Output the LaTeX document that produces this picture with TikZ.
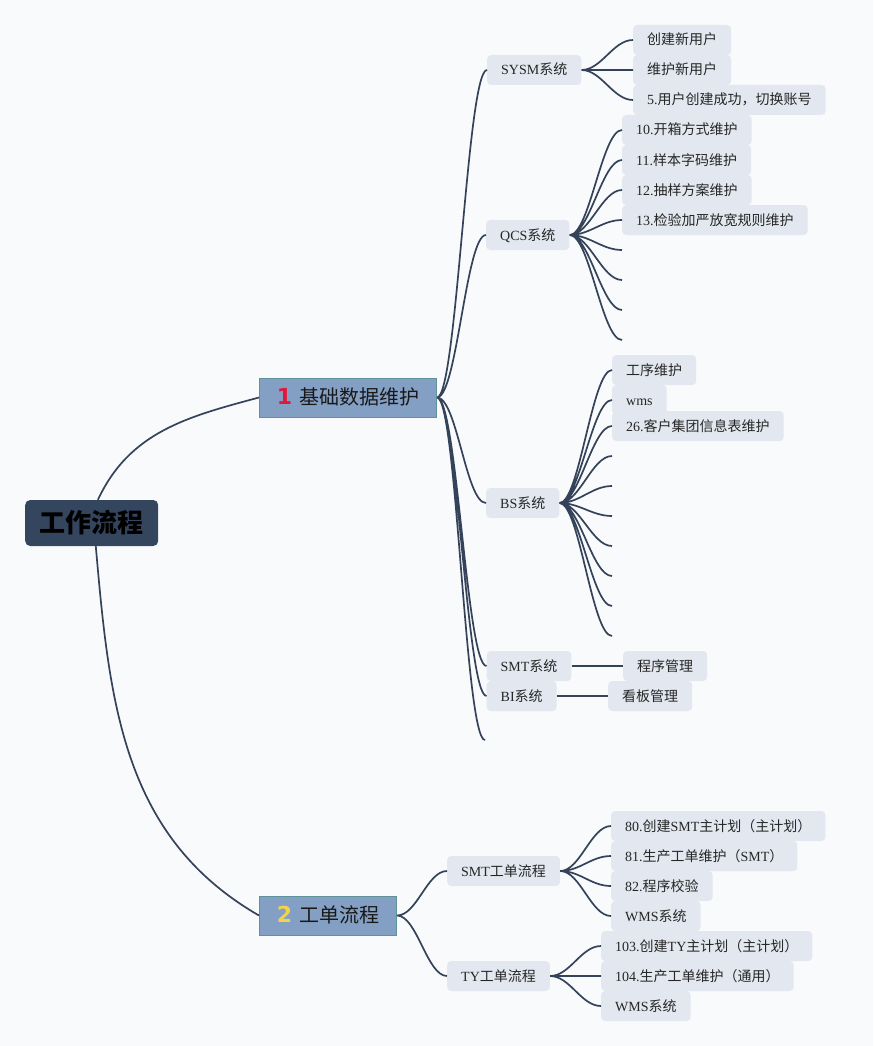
\documentclass[tikz,border=0pt]{standalone}
\usepackage{fontspec}
\setmainfont{Liberation Serif}
\newfontfamily\cjk{Noto Sans CJK SC}
\newfontfamily\numfont{DejaVu Sans}
\newcommand\zh[1]{{\cjk #1}}
\definecolor{bgpaper}{HTML}{F9FAFB}
\definecolor{linkline}{HTML}{34425A}
\definecolor{topicfill}{HTML}{E3E8F0}
\definecolor{mainfill}{HTML}{849FC4}
\definecolor{mainedge}{HTML}{5F9399}
\definecolor{rootfill}{HTML}{34455E}
\definecolor{numred}{HTML}{E0193A}
\definecolor{numyellow}{HTML}{F2D349}
\tikzset{
  topic/.style={anchor=west, fill=topicfill, rounded corners=4pt, minimum height=30pt,
    inner xsep=14pt, inner ysep=0pt, text height=12pt, text depth=2pt,
    font=\fontsize{14}{16}\selectfont, text=black!85},
  mainbox/.style={anchor=west, fill=mainfill, draw=mainedge, line width=1pt,
    minimum height=39pt, inner xsep=0pt, text height=16pt, text depth=3pt,
    font=\cjk\fontsize{20}{24}\selectfont, text=black!90},
  rootbox/.style={anchor=west, fill=rootfill, rounded corners=5pt, minimum width=133pt,
    minimum height=46pt, font=\cjk\bfseries\fontsize{26}{30}\selectfont, text=black},
  link/.style={draw=linkline, line width=1.7pt},
  fan/.style={out=0, in=180, distance=#1},
  fan/.default=20pt
}
\begin{document}
\begin{tikzpicture}[x=1pt,y=1pt]
\fill[bgpaper] (0,0) rectangle (873,-1046);
\useasboundingbox (0,0) rectangle (873,-1046);
\path
	(25,-523) node[rootbox] (root) {工作流程}
	(259,-397.5) node[mainbox, minimum width=177pt] (jichu) {{\numfont\bfseries\fontsize{22}{24}\selectfont\color{numred}1}\hspace{7pt}基础数据维护}
	(259,-915.5) node[mainbox, minimum width=137pt] (gongdan) {{\numfont\bfseries\fontsize{22}{24}\selectfont\color{numyellow}2}\hspace{7pt}工单流程};
\path
	(487,-70) node[topic] (sysm) {SYSM\zh{系统}}
	(486,-235) node[topic] (qcs) {QCS\zh{系统}}
	(486,-503) node[topic] (bs) {BS\zh{系统}}
	(486.5,-666) node[topic] (smt) {SMT\zh{系统}}
	(486.5,-696) node[topic] (bi) {BI\zh{系统}}
	(447,-871) node[topic] (sflow) {SMT\zh{工单流程}}
	(447,-976) node[topic] (tflow) {TY\zh{工单流程}};
\coordinate (blank) at (485,-740);
\path
	(633,-40) node[topic] (u1) {\zh{创建新用户}}
	(633,-70) node[topic] (u2) {\zh{维护新用户}}
	(633,-100) node[topic] (u3) {5.\zh{用户创建成功，切换账号}}
	(622,-130) node[topic] (q1) {10.\zh{开箱方式维护}}
	(622,-160) node[topic] (q2) {11.\zh{样本字码维护}}
	(622,-190) node[topic] (q3) {12.\zh{抽样方案维护}}
	(622,-220) node[topic] (q4) {13.\zh{检验加严放宽规则维护}}
	(612,-370) node[topic] (b1) {\zh{工序维护}}
	(612,-400) node[topic] (b2) {wms}
	(612,-426) node[topic] (b3) {26.\zh{客户集团信息表维护}}
	(623,-666) node[topic] (smt1) {\zh{程序管理}}
	(608,-696) node[topic] (bi1) {\zh{看板管理}}
	(611,-826) node[topic] (s1) {80.\zh{创建}SMT\zh{主计划（主计划）}}
	(611,-856) node[topic] (s2) {81.\zh{生产工单维护（}SMT\zh{）}}
	(611,-886) node[topic] (s3) {82.\zh{程序校验}}
	(611,-916) node[topic] (s4) {WMS\zh{系统}}
	(601,-946) node[topic] (t1) {103.\zh{创建}TY\zh{主计划（主计划）}}
	(601,-976) node[topic] (t2) {104.\zh{生产工单维护（通用）}}
	(601,-1006) node[topic] (t3) {WMS\zh{系统}};
\coordinate (q5) at (622,-250);
\coordinate (q6) at (622,-280);
\coordinate (q7) at (622,-310);
\coordinate (q8) at (622,-340);
\coordinate (b4) at (612,-456);
\coordinate (b5) at (612,-486);
\coordinate (b6) at (612,-516);
\coordinate (b7) at (612,-546);
\coordinate (b8) at (612,-576);
\coordinate (b9) at (612,-606);
\coordinate (b10) at (612,-636);
\draw[link] (root.75) to[out=65,in=195] (jichu.west);
\draw[link] (root.-80) to[out=-85,in=150] (gongdan.west);
\draw[link] (jichu.east) to[fan] (sysm.west) (jichu.east) to[fan] (qcs.west)
	(jichu.east) to[fan] (bs.west) (jichu.east) to[fan] (smt.west)
	(jichu.east) to[fan] (bi.west) (jichu.east) to[fan] (blank);
\draw[link] (sysm.east) to[fan] (u1.west) (sysm.east) to[fan] (u2.west) (sysm.east) to[fan] (u3.west);
\draw[link] (qcs.east) to[fan] (q1.west) (qcs.east) to[fan] (q2.west) (qcs.east) to[fan] (q3.west)
	(qcs.east) to[fan] (q4.west) (qcs.east) to[fan] (q5) (qcs.east) to[fan] (q6)
	(qcs.east) to[fan] (q7) (qcs.east) to[fan] (q8);
\draw[link] (bs.east) to[fan] (b1.west) (bs.east) to[fan] (b2.west) (bs.east) to[fan] (b3.west)
	(bs.east) to[fan] (b4) (bs.east) to[fan] (b5) (bs.east) to[fan] (b6) (bs.east) to[fan] (b7)
	(bs.east) to[fan] (b8) (bs.east) to[fan] (b9) (bs.east) to[fan] (b10);
\draw[link] (smt.east) -- (smt1.west);
\draw[link] (bi.east) -- (bi1.west);
\draw[link] (gongdan.east) to[fan] (sflow.west) (gongdan.east) to[fan] (tflow.west);
\draw[link] (sflow.east) to[fan] (s1.west) (sflow.east) to[fan] (s2.west)
	(sflow.east) to[fan] (s3.west) (sflow.east) to[fan] (s4.west);
\draw[link] (tflow.east) to[fan] (t1.west) (tflow.east) to[fan] (t2.west) (tflow.east) to[fan] (t3.west);
\end{tikzpicture}
\end{document}
